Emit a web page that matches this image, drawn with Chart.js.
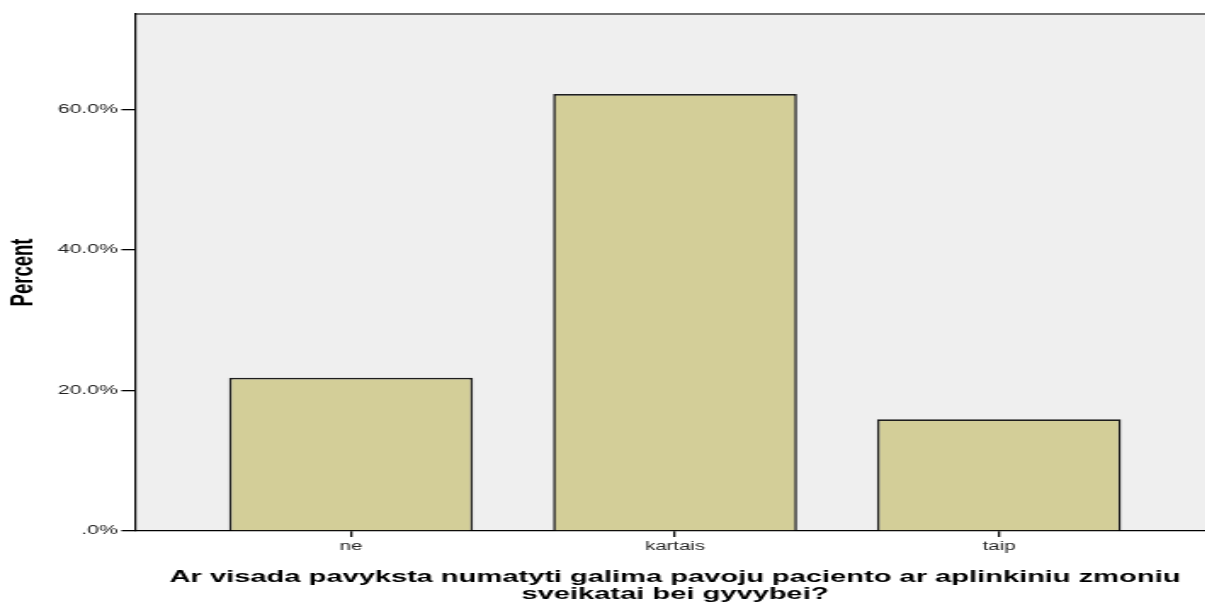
<!DOCTYPE html>
<html>
<head>
<meta charset="utf-8">
<script src="https://cdn.jsdelivr.net/npm/chart.js@4/dist/chart.umd.min.js"></script>
<style>
  html, body { margin: 0; padding: 0; background: #fff; overflow: hidden; width: 1205px; height: 605px; }
  #chart { display: block; transform: scaleX(1.7); transform-origin: 0 0; }
</style>
</head>
<body>
<canvas id="chart" width="720" height="605"></canvas>
<script>
var categories = ['ne', 'kartais', 'taip'];
var percentValues = [21.8, 62.2, 15.9];
var yTicks = [0, 20, 40, 60];
var xTitle = ['Ar visada pavyksta numatyti galima pavoju paciento ar aplinkiniu zmoniu', 'sveikatai bei gyvybei?'];
var yTitle = 'Percent';

// plot frame: grey background and top border line
var plotFrame = {
    id: 'plotFrame',
    beforeDraw: function( chart ) {
        var a = chart.chartArea, ctx = chart.ctx;
        ctx.save();
        ctx.fillStyle = '#efefef';
        ctx.fillRect( a.left, a.top, a.right - a.left, a.bottom - a.top );
        ctx.strokeStyle = '#6e6e6e';
        ctx.lineWidth = 2;
        ctx.beginPath();
        ctx.moveTo( a.left, a.top );
        ctx.lineTo( a.right, a.top );
        ctx.stroke();
        ctx.restore();
    }
};

function drawChart( chartElementId )
{
    var ctx = document.getElementById( chartElementId ).getContext( '2d' );
    var points = percentValues.map( function( v, i ) { return { x: i, y: v }; } );

    new Chart( ctx, {
        type: 'bar',
        data: {
            datasets: [
                {
                    data: points,
                    backgroundColor: '#d3ce98',
                    borderColor: '#1e1e1e',
                    borderWidth: 1.6,
                    barPercentage: 0.753,
                    categoryPercentage: 1
                }
            ]
        },
        options: {
            responsive: false,
            animation: false,
            layout: { padding: { top: 14, right: 5.3, left: 0, bottom: 0 } },
            plugins: { legend: { display: false }, tooltip: { enabled: false } },
            scales: {
                x: {
                    type: 'linear',
                    offset: false,
                    min: -2 / 3,
                    max: 2 + 2 / 3,
                    afterBuildTicks: function( axis ) {
                        axis.ticks = categories.map( function( c, i ) { return { value: i }; } );
                    },
                    afterFit: function( scale ) { scale.height = 74; },
                    ticks: {
                        autoSkip: false,
                        maxRotation: 0,
                        padding: 2,
                        color: '#222',
                        font: { family: 'Liberation Sans, Arial, sans-serif', size: 12 },
                        callback: function( value ) { return categories[ value ]; }
                    },
                    grid: { offset: false, drawOnChartArea: false, drawTicks: true, tickLength: 6, color: '#000', lineWidth: 1.3 },
                    border: { color: '#000', width: 1.3 },
                    title: {
                        display: true,
                        text: xTitle,
                        color: '#000',
                        font: { family: 'Liberation Sans, Arial, sans-serif', size: 17.1, weight: 'bold', lineHeight: 1.0 },
                        padding: { top: 14, bottom: 2.5 }
                    }
                },
                y: {
                    min: 0,
                    max: 73.6,
                    afterBuildTicks: function( axis ) {
                        axis.ticks = yTicks.map( function( v ) { return { value: v }; } );
                    },
                    afterFit: function( scale ) { scale.width = 79.41; },
                    ticks: {
                        padding: 2,
                        color: '#222',
                        font: { family: 'Liberation Sans, Arial, sans-serif', size: 12.5 },
                        callback: function( value ) { return value === 0 ? '.0%' : value.toFixed( 1 ) + '%'; }
                    },
                    grid: { drawOnChartArea: false, drawTicks: true, tickLength: 8, color: '#000', lineWidth: 1.3 },
                    border: { color: '#000', width: 1.2 },
                    title: {
                        display: true,
                        text: yTitle,
                        color: '#000',
                        font: { family: 'Liberation Sans, Arial, sans-serif', size: 18.5, weight: 'bold' },
                        padding: { top: 3, bottom: 0 }
                    }
                }
            }
        },
        plugins: [ plotFrame ]
    });
}

drawChart( 'chart' );
</script>
</body>
</html>
